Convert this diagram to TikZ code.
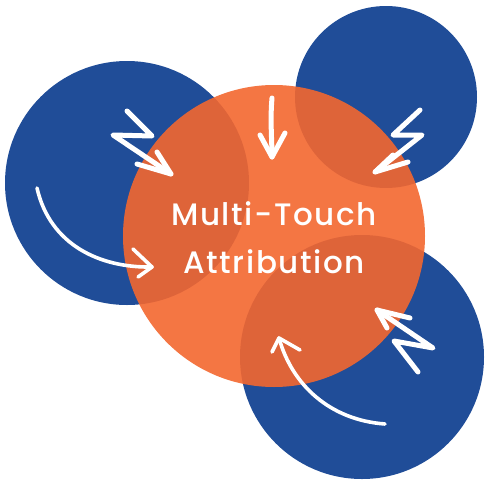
\documentclass[tikz,border=0pt]{standalone}
\usepackage{fontspec}
\setmainfont{Poppins}[UprightFont={* Medium}]
\definecolor{myblue}{RGB}{32,77,152}
\definecolor{myorange}{RGB}{243,103,47}
\tikzset{
  bluedisc/.style={fill=myblue},
  orangedisc/.style={fill=myorange, fill opacity=0.9},
  zig/.style={draw=white, line width=5pt, line cap=round, line join=round},
  curv/.style={draw=white, line width=3.6pt, line cap=round, line join=round},
  title/.style={text=white, font=\fontsize{31}{31}\selectfont\addfontfeature{LetterSpace=5}, anchor=base, inner sep=0pt}
}
\begin{document}
\begin{tikzpicture}[x=1pt,y=-1pt]
\useasboundingbox (0,0) rectangle (490,490);
% blue circles
\fill[bluedisc] (127,183) circle (122);
\fill[bluedisc] (386,97) circle (91);
\fill[bluedisc] (362,357) circle (122);
% orange circle
\fill[orangedisc] (274,236) circle (151);
% arrows
% top-left zigzag
\coordinate (tlTip) at (171,174);
\draw[zig] (127,111) -- (152,136) -- (113,135) -- (tlTip);
\draw[zig] (157,152) -- (tlTip) -- (137,164);
% top straight
\coordinate (tcTip) at (272,157);
\draw[zig] (272,98) .. controls (270,120) and (272,140) .. (tcTip);
\draw[zig] (260,135) -- (tcTip) -- (285,133);
% top-right zigzag
\coordinate (trTip) at (375,172);
\draw[zig] (420,110) -- (393,135) -- (422,135) -- (trTip);
\draw[zig] (393,155) -- (trTip) -- (408,162);
% bottom-right zigzag
\coordinate (brTip) at (377,310);
\draw[zig] (418,372) -- (394,341) -- (433,348) -- (brTip);
\draw[zig] (410,318) -- (brTip) -- (387,328);
% left curve
\coordinate (lcTip) at (152,267);
\draw[curv] (37,188) .. controls (50,245) and (100,268) .. (lcTip);
\draw[curv] (133,249) -- (lcTip) -- (138,277);
% bottom curve
\coordinate (bcTip) at (279,338);
\draw[curv] (385,424) .. controls (330,420) and (292,385) .. (bcTip);
\draw[curv] (272,352) -- (bcTip) -- (300,350);
% text
\node[title] (t1) at (274,225) {Multi-Touch};
\node[title] (t2) at (274,273) {Attribution};
\end{tikzpicture}
\end{document}
